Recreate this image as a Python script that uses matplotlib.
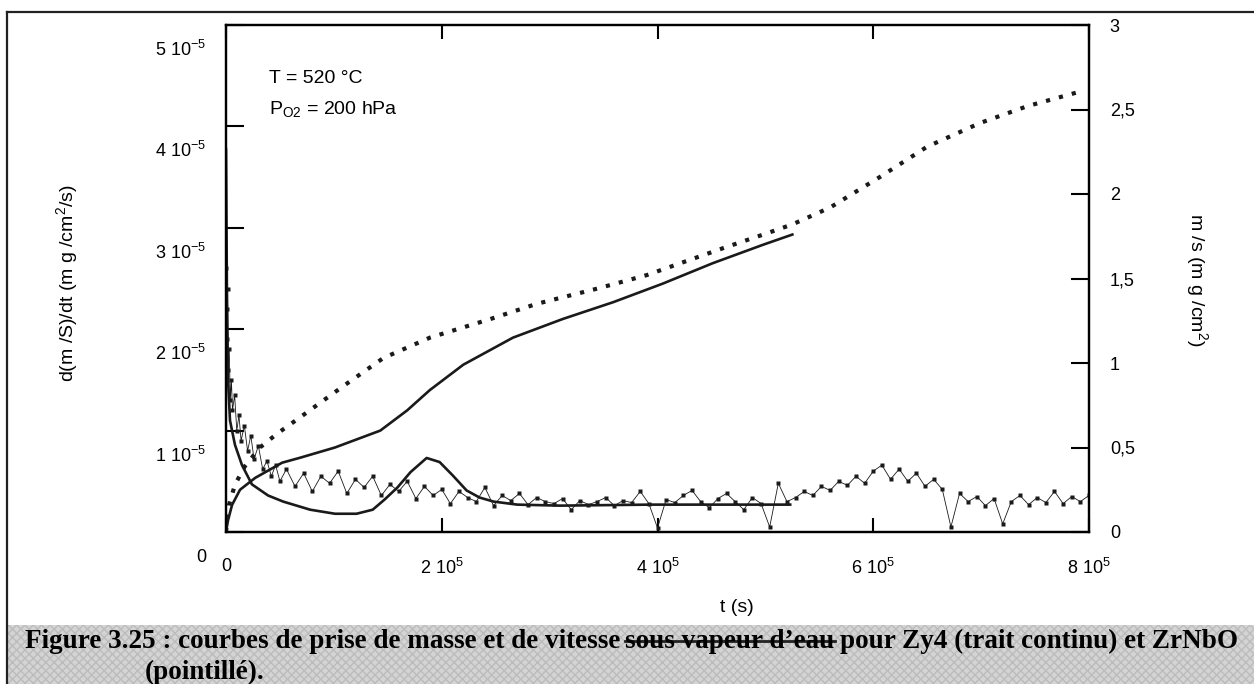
import numpy as np
import matplotlib
matplotlib.use("Agg")
import matplotlib.pyplot as plt
from matplotlib.transforms import ScaledTranslation
from matplotlib.patches import Rectangle
from matplotlib.lines import Line2D

plt.rcParams['font.family'] = ['Liberation Sans', 'DejaVu Sans']
plt.rcParams['mathtext.fontset'] = 'custom'
plt.rcParams['mathtext.rm'] = 'Liberation Sans'
plt.rcParams['mathtext.it'] = 'Liberation Sans'

# ---- data (t in 1e3 s) ----
# prise de masse Zy4 (trait continu), axe de droite, mg/cm2
t_zy4_m = [0, 1.9, 5.6, 13, 27, 52, 69, 101, 143, 168, 189, 220, 266, 312, 359, 405, 451, 498, 525]
m_zy4 = [0, 0.07, 0.16, 0.25, 0.32, 0.41, 0.44, 0.50, 0.60, 0.72, 0.84, 0.99, 1.15, 1.26, 1.36, 1.47, 1.59, 1.70, 1.76]

# prise de masse ZrNbO (pointille), axe de droite
t_zr_m = [0, 2.8, 8.3, 17.6, 31.5, 47, 69, 108, 146, 189, 245, 288, 344, 390, 421, 461, 498, 525, 560, 606, 650, 699, 743, 794]
m_zr = [0, 0.16, 0.28, 0.39, 0.50, 0.58, 0.68, 0.86, 1.03, 1.15, 1.26, 1.35, 1.44, 1.52, 1.59, 1.68, 1.76, 1.82, 1.92, 2.10, 2.28, 2.42, 2.52, 2.61]

# vitesse Zy4 (trait continu), axe de gauche, en 1e-5 mg/cm2/s
t_zy4_v = [0, 0.9, 1.9, 3.7, 8.3, 14.8, 24, 39, 53, 78, 101, 121, 136, 147, 159, 171, 186, 198, 210, 223, 235, 248, 270, 310, 393, 458, 523]
v_zy4 = [3.77, 2.29, 1.50, 1.10, 0.86, 0.66, 0.47, 0.36, 0.30, 0.22, 0.18, 0.18, 0.22, 0.32, 0.44, 0.59, 0.73, 0.69, 0.56, 0.41, 0.34, 0.30, 0.27, 0.26, 0.27, 0.27, 0.27]

# vitesse ZrNbO (pointille, bruitee), axe de gauche, en 1e-5
t_zr_v = [0.3, 0.6, 1, 1.5, 2, 3, 4, 5, 6, 8, 10, 12, 14, 17, 20, 23, 26, 30, 34, 38, 42, 46, 50,
          56, 64, 72, 80, 88, 96, 104, 112, 120, 128, 136, 144, 152, 160, 168,
          176, 184, 192, 200, 208, 216, 224, 232, 240, 248, 256, 264, 272, 280, 288, 296,
          304, 312, 320, 328, 336, 344, 352, 360, 368, 376, 384, 392, 400, 408, 416, 424, 432, 440,
          448, 456, 464, 472, 480, 488, 496, 504, 512, 520,
          528, 536, 544, 552, 560, 568, 576, 584, 592, 600,
          608, 616, 624, 632, 640, 648, 656, 664, 672,
          680, 688, 696, 704, 712, 720, 728, 736, 744, 752, 760, 768, 776, 784, 792, 800]
v_zr = [2.6, 2.2, 1.9, 2.4, 1.6, 1.8, 1.3, 1.5, 1.2, 1.35, 1.0, 1.15, 0.9, 1.05, 0.8, 0.95, 0.72, 0.85, 0.62, 0.7, 0.55, 0.66, 0.5,
        0.62, 0.45, 0.58, 0.40, 0.55, 0.48, 0.60, 0.38, 0.52, 0.44, 0.55, 0.36, 0.47, 0.40, 0.50,
        0.33, 0.45, 0.36, 0.42, 0.28, 0.40, 0.34, 0.30, 0.44, 0.26, 0.36, 0.31, 0.38, 0.27, 0.34, 0.30,
        0.28, 0.33, 0.22, 0.31, 0.27, 0.30, 0.34, 0.26, 0.31, 0.29, 0.40, 0.28, 0.04, 0.32, 0.29, 0.36, 0.41, 0.30,
        0.24, 0.33, 0.38, 0.30, 0.22, 0.34, 0.28, 0.05, 0.48, 0.30,
        0.34, 0.40, 0.36, 0.45, 0.41, 0.50, 0.46, 0.55, 0.48, 0.60,
        0.66, 0.52, 0.62, 0.50, 0.58, 0.45, 0.52, 0.42, 0.05,
        0.38, 0.30, 0.35, 0.26, 0.33, 0.08, 0.30, 0.36, 0.27, 0.34, 0.29, 0.40, 0.28, 0.35, 0.30, 0.36]

x_ticks = [0, 2e5, 4e5, 6e5, 8e5]
x_labels = ['0', r'2 10$^5$', r'4 10$^5$', r'6 10$^5$', r'8 10$^5$']
left_ticks = [0, 1e-5, 2e-5, 3e-5, 4e-5, 5e-5]
left_labels = ['0', r'1 10$^{-5}$', r'2 10$^{-5}$', r'3 10$^{-5}$', r'4 10$^{-5}$', r'5 10$^{-5}$']
right_ticks = [0, 0.5, 1, 1.5, 2, 2.5, 3]
right_labels = ['0', '0,5', '1', '1,5', '2', '2,5', '3']

W, H = 1254, 684
fig = plt.figure(figsize=(W / 100, H / 100), dpi=100)
ax = fig.add_axes([226 / W, 1 - 532 / H, (1089 - 226) / W, (532 - 25) / H])
ax2 = ax.twinx()

k = 1e3
ink = '#1a1a1a'
ax.plot(np.array(t_zy4_v) * k, np.array(v_zy4) * 1e-5, color=ink, lw=1.9)
ax.plot(np.array(t_zr_v) * k, np.array(v_zr) * 1e-5, color=ink, lw=0.6,
        marker='s', ms=2.8, mec='none')
ax2.plot(np.array(t_zy4_m) * k, m_zy4, color=ink, lw=1.9)
ax2.plot(np.array(t_zr_m) * k, m_zr, color=ink, lw=3.0,
         linestyle=(0, (1, 2.2)), dash_capstyle='butt')

ax.set_xlim(0, 8e5)
ax.set_ylim(0, 5e-5)
ax2.set_ylim(0, 3)

ax.set_xticks(x_ticks)
ax.set_xticklabels(x_labels)
ax.set_yticks(left_ticks)
ax.set_yticklabels([])
ax.tick_params(axis='both', direction='in', length=10, width=1.5, labelsize=13)
ax.tick_params(axis='x', top=True, pad=19)
ax.tick_params(axis='y', length=13)
ax2.set_yticks(right_ticks)
ax2.set_yticklabels(right_labels)
ax2.tick_params(axis='y', direction='in', length=13, width=1.5, pad=15, labelsize=13)
for a in (ax, ax2):
    for s in a.spines.values():
        s.set_linewidth(1.6)

# left tick labels sit about 25 px below their ticks in the original
off = ScaledTranslation(-20 / 100, -25 / 100, fig.dpi_scale_trans)
for v, lab in zip(left_ticks, left_labels):
    ax.text(0, v, lab, transform=ax.get_yaxis_transform() + off,
            ha='right', va='center', fontsize=13)

ax.text(0.05, 0.885, 'T = 520 °C', transform=ax.transAxes, fontsize=14)
ax.text(0.05, 0.825, r'P$_{\mathrm{O2}}$ = 200 hPa', transform=ax.transAxes, fontsize=14)

fig.text(737 / W, 1 - 608 / H, 't (s)', ha='center', va='center', fontsize=14)
fig.text(67 / W, 1 - 283 / H, r'd(m /S)/dt (m g /cm$^2$/s)', rotation=90,
         ha='center', va='center', fontsize=14)
fig.text(1197 / W, 1 - 280 / H, r'm /s (m g /cm$^2$)', rotation=-90,
         ha='center', va='center', fontsize=14)

# page frame and caption band
fig.add_artist(Line2D([7 / W, 7 / W], [0, 1 - 12 / H], color='#222222', lw=1.6))
fig.add_artist(Line2D([7 / W, 1], [1 - 12 / H, 1 - 12 / H], color='#222222', lw=1.6))
fig.add_artist(Rectangle((8 / W, 0), 1, 59 / H, transform=fig.transFigure,
                         facecolor='#d4d4d4', hatch='xxxx', edgecolor='#bcbcbc', lw=0))

cap = dict(family='Liberation Serif', weight='bold', fontsize=19.5, va='baseline')
renderer = fig.canvas.get_renderer()
y1 = 1 - 648 / H
gap = 5
t1 = fig.text(25 / W, y1, 'Figure 3.25 : courbes de prise de masse et de vitesse', **cap)
b1 = t1.get_window_extent(renderer)
t2 = fig.text((b1.x1 + gap) / W, y1, 'sous vapeur d\u2019eau', **cap)
b2 = t2.get_window_extent(renderer)
t3 = fig.text((b2.x1 + gap) / W, y1, 'pour Zy4 (trait continu) et ZrNbO', **cap)
ys = 648 - 7
fig.add_artist(Line2D([b2.x0 / W, b2.x1 / W], [1 - ys / H, 1 - ys / H], color='#222222', lw=2))
fig.text(145 / W, 1 - 679 / H, '(pointillé).', **cap)

fig.savefig('out.png', dpi=100)
